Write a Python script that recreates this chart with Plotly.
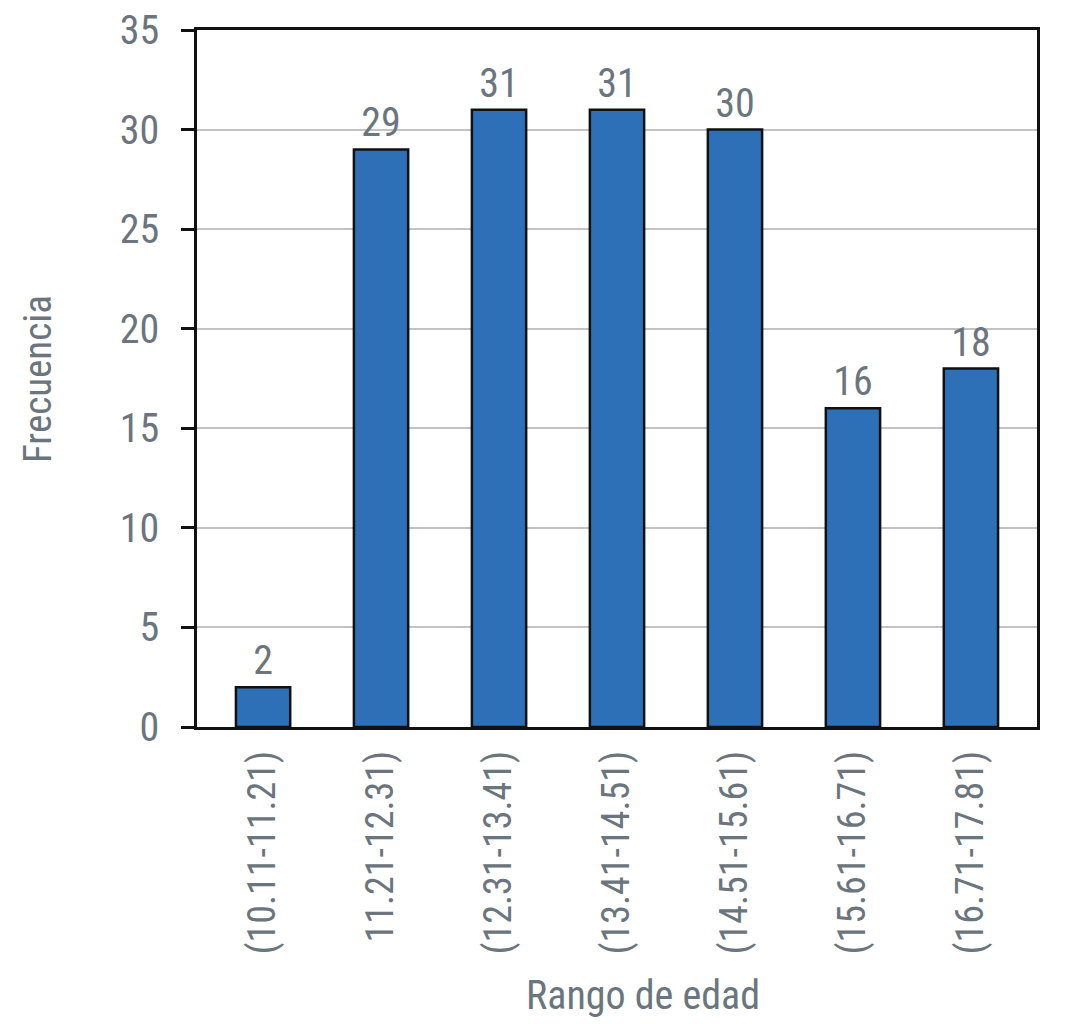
import plotly.graph_objects as go

categories = ["(10.11-11.21)", "11.21-12.31)", "(12.31-13.41)", "(13.41-14.51)",
              "(14.51-15.61)", "(15.61-16.71)", "(16.71-17.81)"]
frecuencia = [2, 29, 31, 31, 30, 16, 18]
y_ticks = [0, 5, 10, 15, 20, 25, 30, 35]

FONT = "Liberation Sans Narrow, Roboto Condensed, Arial Narrow, Liberation Sans, sans-serif"
GRAY = "#6b757d"

fig = go.Figure(go.Bar(
    x=categories,
    y=frecuencia,
    width=0.46,
    marker=dict(color="#2e70b7", line=dict(color="#111111", width=2.5)),
    text=[str(v) for v in frecuencia],
    textposition="outside",
    textfont=dict(family=FONT, size=40, color=GRAY),
    cliponaxis=False,
))

fig.update_layout(
    width=1065, height=1024,
    margin=dict(l=189, r=36, t=22, b=305),
    plot_bgcolor="white", paper_bgcolor="white",
    showlegend=False,
    font=dict(family=FONT, color=GRAY),
    annotations=[
        dict(text="Frecuencia", xref="paper", yref="paper", x=-0.19, y=0.5,
             textangle=-90, showarrow=False, xanchor="center", yanchor="middle",
             font=dict(family=FONT, size=39, color=GRAY)),
        dict(text="Rango de edad", xref="paper", yref="paper", x=0.531, y=-0.385,
             showarrow=False, xanchor="center", yanchor="middle",
             font=dict(family=FONT, size=40, color=GRAY)),
    ],
)

fig.update_xaxes(
    type="category",
    range=[-0.56, 6.56],
    automargin=False,
    showline=True, linecolor="#111111", linewidth=2.5, mirror=True,
    showgrid=False,
    ticks="outside", ticklen=0,
    ticklabelstandoff=6,
    tickangle=-90,
    tickfont=dict(family=FONT, size=38, color=GRAY),
)

fig.update_yaxes(
    range=[0, 35],
    tickvals=y_ticks,
    automargin=False,
    showline=True, linecolor="#111111", linewidth=2.5, mirror=True,
    showgrid=True, gridcolor="#c3c3c3", gridwidth=2,
    ticks="outside", ticklen=13, tickwidth=2.5, tickcolor="#111111",
    ticklabelstandoff=14,
    ticklabeloverflow="allow",
    tickfont=dict(family=FONT, size=40, color=GRAY),
    zeroline=False,
)

fig.write_html("out.html")
